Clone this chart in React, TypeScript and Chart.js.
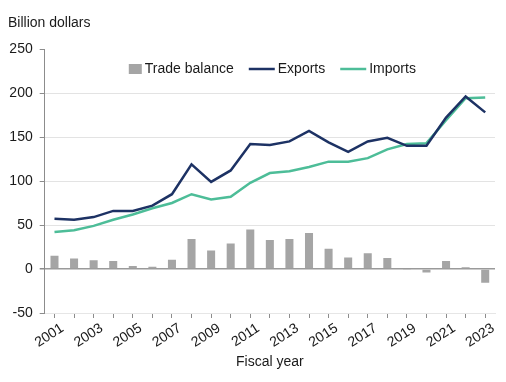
import React, { useEffect, useRef } from "react";
import { Chart, registerables } from "chart.js";

Chart.register(...registerables);

const years = [
  "2001", "2002", "2003", "2004", "2005", "2006", "2007", "2008", "2009", "2010",
  "2011", "2012", "2013", "2014", "2015", "2016", "2017", "2018", "2019", "2020",
  "2021", "2022", "2023",
];
const exportsValues = [57, 56, 59, 66, 66, 72, 85, 119, 99, 112, 142, 141, 145, 157, 144, 133, 145, 149, 140, 140, 172, 196, 178];
const importsValues = [42, 44, 49, 56, 62, 69, 75, 85, 79, 82, 98, 109, 111, 116, 122, 122, 126, 136, 142, 143, 169, 194, 195];
const balanceValues = [15, 12, 10, 9, 3.5, 2.5, 10.5, 34, 21, 29, 45, 33, 34, 41, 23, 13, 18, 12.5, -1, -4, 9, 2, -15.5];

const yTitle = "Billion dollars";
const xTitle = "Fiscal year";

const FONT = '"Liberation Sans", Arial, sans-serif';
const TEXT = "#1a1a1a";
const NAVY = "#1d3264";
const TEAL = "#4dbd98";
const GRAY = "#a5a5a5";

const legendPlugin = {
  id: "customLegend",
  afterDraw(chart: any) {
    const { ctx, chartArea } = chart;
    ctx.save();
    ctx.font = `14px ${FONT}`;
    ctx.textBaseline = "middle";
    ctx.textAlign = "left";
    const items = chart.data.datasets.map((ds: any) => ({
      label: ds.label as string,
      isLine: ds.type === "line",
      color: ds.type === "line" ? ds.borderColor : ds.backgroundColor,
    }));
    const boxW = 13;
    const lineW = 26;
    const gapSym = 3;
    const gapItem = 15;
    const widths = items.map((it: any) => (it.isLine ? lineW : boxW) + gapSym + ctx.measureText(it.label).width);
    const total = widths.reduce((a: number, b: number) => a + b, 0) + gapItem * (items.length - 1);
    let x = (chartArea.left + chartArea.right) / 2 + 2.5 - total / 2;
    const y = chartArea.top + 20;
    items.forEach((it: any, i: number) => {
      if (it.isLine) {
        ctx.strokeStyle = it.color;
        ctx.lineWidth = 2.5;
        ctx.beginPath();
        ctx.moveTo(x, y);
        ctx.lineTo(x + lineW, y);
        ctx.stroke();
        x += lineW + gapSym;
      } else {
        ctx.fillStyle = it.color;
        ctx.fillRect(x, y - 5, boxW, 10);
        x += boxW + gapSym;
      }
      ctx.fillStyle = TEXT;
      ctx.fillText(it.label, x, y);
      x += widths[i] - ((it.isLine ? lineW : boxW) + gapSym) + gapItem;
    });
    ctx.restore();
  },
};

export default function App() {
  const canvasRef = useRef<HTMLCanvasElement | null>(null);

  useEffect(() => {
    if (!canvasRef.current) return;
    const chart = new Chart(canvasRef.current, {
      type: "bar",
      data: {
        labels: years,
        datasets: [
          {
            type: "bar",
            label: "Trade balance",
            data: balanceValues,
            backgroundColor: GRAY,
            barPercentage: 0.41,
            categoryPercentage: 1,
            order: 3,
          } as any,
          {
            type: "line",
            label: "Exports",
            data: exportsValues,
            borderColor: NAVY,
            backgroundColor: NAVY,
            borderWidth: 2.5,
            pointRadius: 0,
            tension: 0,
            order: 1,
          } as any,
          {
            type: "line",
            label: "Imports",
            data: importsValues,
            borderColor: TEAL,
            backgroundColor: TEAL,
            borderWidth: 2.5,
            pointRadius: 0,
            tension: 0,
            order: 2,
          } as any,
        ],
      },
      options: {
        responsive: false,
        animation: false,
        layout: { padding: { left: 8, right: 11, top: 0, bottom: 0 } },
        plugins: {
          legend: { display: false },
          tooltip: { enabled: false },
          title: {
            display: true,
            text: yTitle,
            align: "start",
            color: TEXT,
            font: { family: FONT, size: 14, weight: "normal" },
            padding: { top: 14.6, bottom: 17.6 },
          },
        },
        scales: {
          x: {
            offset: true,
            afterFit: (scale: any) => {
              scale.height = 69;
              scale.paddingLeft = 0;
              scale.paddingRight = 0;
            },
            grid: {
              offset: false,
              drawOnChartArea: false,
              drawTicks: true,
              tickLength: 5,
              tickColor: "#8c8c8c",
            },
            border: { display: true, color: "#e6e6e6" },
            ticks: {
              autoSkip: false,
              maxRotation: 33,
              minRotation: 33,
              labelOffset: 8,
              padding: 2,
              color: TEXT,
              font: { family: FONT, size: 14 },
              callback: (_v: any, i: number) => (i % 2 === 0 ? years[i] : ""),
            },
            title: {
              display: true,
              text: xTitle,
              color: TEXT,
              font: { family: FONT, size: 14 },
              padding: { top: 4, bottom: 11.6 },
            },
          },
          y: {
            min: -50,
            max: 250,
            afterFit: (scale: any) => {
              scale.width = 36.7;
            },
            grid: {
              color: (c: any) => (c.tick && c.tick.value === 0 ? "#9a9a9a" : c.tick && c.tick.value === 250 ? "rgba(0,0,0,0)" : "#e3e3e3"),
              lineWidth: (c: any) => (c.tick && c.tick.value === 0 ? 1.5 : 1),
              tickLength: 5,
              tickColor: "#8c8c8c",
            },
            border: { display: true, color: "#8c8c8c" },
            ticks: {
              stepSize: 50,
              padding: 7,
              color: TEXT,
              font: { family: FONT, size: 14 },
            },
          },
        },
      },
      plugins: [legendPlugin],
    });
    return () => chart.destroy();
  }, []);

  return (
    <div style={{ position: "absolute", left: 0, top: 0, width: 506, height: 382 }}>
      <canvas ref={canvasRef} width={506} height={382} style={{ display: "block" }} />
    </div>
  );
}
